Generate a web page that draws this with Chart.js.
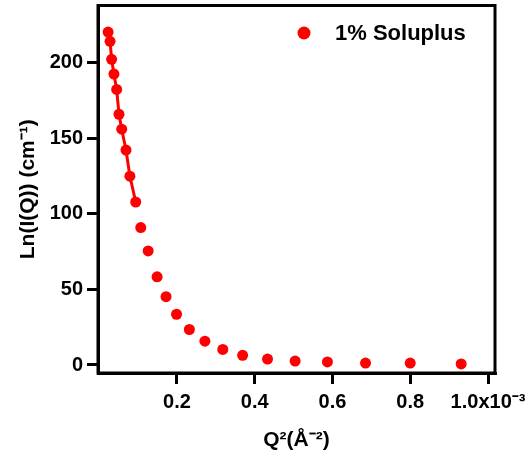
<!DOCTYPE html>
<html>
<head>
<meta charset="utf-8">
<script src="https://cdn.jsdelivr.net/npm/chart.js@4/dist/chart.umd.min.js"></script>
<style>
  html, body { margin: 0; padding: 0; background: #fff; }
  #wrap { width: 530px; height: 455px; }
</style>
</head>
<body>
<div id="wrap"><canvas id="guinierChart" width="530" height="455"></canvas></div>
<script>
// --- データ (Q² は ×10⁻³ Å⁻² 単位) ---
const q2 = [0.023, 0.028, 0.032, 0.038, 0.045, 0.051, 0.058, 0.069, 0.079, 0.094,
            0.107, 0.126, 0.149, 0.172, 0.199, 0.232, 0.272, 0.318, 0.369, 0.433,
            0.504, 0.587, 0.685, 0.800, 0.931];
const lnI = [220.4, 214.3, 202.4, 192.6, 182.4, 166.0, 156.1, 142.3, 125.0, 107.9,
             91.0, 75.5, 58.4, 45.2, 33.6, 23.5, 15.8, 10.3, 6.4, 3.9,
             2.6, 2.0, 1.3, 1.3, 0.7];
const fitCount = 10;   // 線でつなぐ先頭の点数
const xTicks = [0.2, 0.4, 0.6, 0.8, 1.0];
const yTicks = [0, 50, 100, 150, 200];
const seriesLabel = '1% Soluplus';

const RED = '#ff0000';
const FONT = 'Liberation Sans, Arial, Helvetica, sans-serif';

const points = q2.map((x, i) => ({ x: x, y: lnI[i] }));
const fitPoints = points.slice(0, fitCount);

// 枠線 (上・右も含む)
const frameBox = {
    id: 'frameBox',
    beforeDatasetsDraw(chart) {
        const { ctx, chartArea: a } = chart;
        ctx.save();
        ctx.strokeStyle = '#000';
        ctx.lineWidth = 3;
        ctx.strokeRect(a.left, a.top, a.right - a.left, a.bottom - a.top);
        ctx.restore();
    }
};

// 凡例 (グラフ内右上)
const insideLegend = {
    id: 'insideLegend',
    afterDraw(chart) {
        const { ctx } = chart;
        ctx.save();
        ctx.fillStyle = RED;
        ctx.beginPath();
        ctx.arc(304, 33, 6.5, 0, Math.PI * 2);
        ctx.fill();
        ctx.fillStyle = '#000';
        ctx.font = 'bold 22px ' + FONT;
        ctx.textAlign = 'left';
        ctx.textBaseline = 'middle';
        ctx.fillText(chart.data.datasets[0].label, 335, 34);
        ctx.restore();
    }
};

const ctx = document.getElementById('guinierChart').getContext('2d');
const guinierChart = new Chart(ctx, {
    type: 'scatter',
    data: {
        datasets: [{
            label: seriesLabel,
            data: points,
            backgroundColor: RED,
            borderColor: RED,
            pointRadius: 5.5,
            pointBorderWidth: 0,
            showLine: false
        }, {
            label: 'fit',
            data: fitPoints,
            borderColor: RED,
            borderWidth: 3,
            pointRadius: 0,
            showLine: true,
            fill: false
        }]
    },
    options: {
        responsive: false,
        animation: false,
        layout: { padding: { top: 3, right: 35, left: 0, bottom: 0 } },
        plugins: {
            legend: { display: false },
            tooltip: { enabled: false }
        },
        scales: {
            x: {
                type: 'linear',
                min: -0.003,
                max: 1.018,
                afterBuildTicks: s => { s.ticks = xTicks.map(v => ({ value: v })); },
                afterFit: s => { s.height = 82; s.paddingLeft = 0; s.paddingRight = 0; },
                grid: { drawOnChartArea: false, color: '#000', lineWidth: 3, tickLength: 11 },
                border: { display: true, color: '#000', width: 3 },
                ticks: {
                    color: '#000',
                    padding: 6,
                    maxRotation: 0,
                    font: { family: FONT, size: 20, weight: 'bold' },
                    callback: v => v === 1 ? '1.0x10\u207B\u00B3' : v.toFixed(1)
                },
                title: {
                    display: true,
                    text: 'Q\u00B2(\u00C5\u207B\u00B2)',
                    color: '#000',
                    font: { family: FONT, size: 21, weight: 'bold' },
                    padding: { top: 0, bottom: 2 }
                }
            },
            y: {
                min: -5.3,
                max: 238,
                afterBuildTicks: s => { s.ticks = yTicks.map(v => ({ value: v })); },
                afterFit: s => { s.width = 98; s.paddingTop = 0; s.paddingBottom = 0; },
                grid: { drawOnChartArea: false, color: '#000', lineWidth: 3, tickLength: 11 },
                border: { display: true, color: '#000', width: 3 },
                ticks: {
                    color: '#000',
                    padding: 4,
                    font: { family: FONT, size: 20, weight: 'bold' }
                },
                title: {
                    display: true,
                    text: 'Ln(I(Q)) (cm\u207B\u00B9)',
                    color: '#000',
                    font: { family: FONT, size: 21, weight: 'bold' },
                    padding: { top: 16, bottom: 0 }
                }
            }
        }
    },
    plugins: [frameBox, insideLegend]
});
</script>
</body>
</html>
